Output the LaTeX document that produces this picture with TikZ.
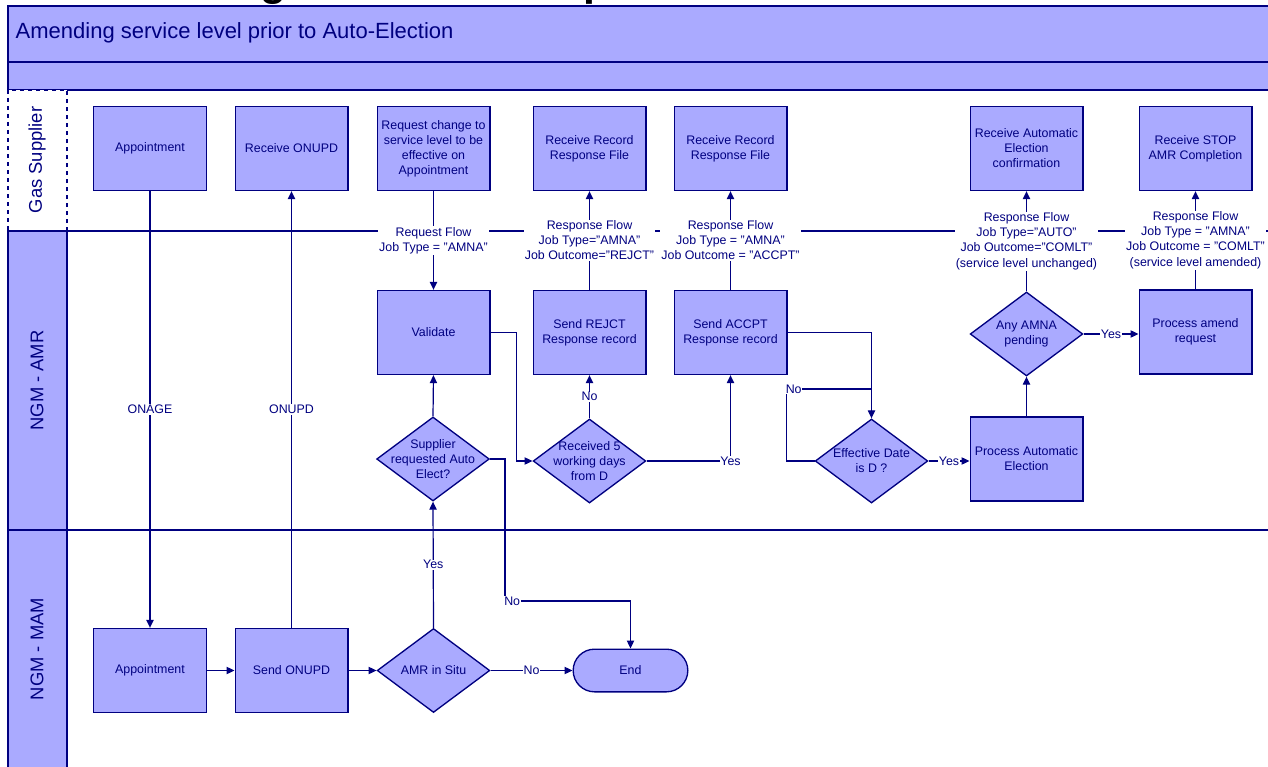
\documentclass[tikz,border=0pt]{standalone}
\usepackage{fontspec}
\setmainfont{Liberation Sans}
\usetikzlibrary{shapes.geometric,arrows.meta}
\definecolor{lane}{HTML}{AAAAFF}
\definecolor{ink}{HTML}{000080}

\begin{document}
\begin{tikzpicture}[x=0.75pt,y=-0.75pt,
  every node/.style={text=ink, font=\fontsize{9.3}{11.3}\selectfont},
  box/.style={draw=ink, fill=lane, line width=1pt, minimum width=84.5pt, minimum height=63pt, inner sep=0pt, align=center},
  dec/.style={diamond, draw=ink, fill=lane, line width=1pt, minimum width=84.5pt, minimum height=63pt, inner sep=0pt},
  dectext/.style={align=center, inner sep=0pt},
  term/.style={draw=ink, fill=lane, line width=1pt, rounded corners=16pt, minimum width=86pt, minimum height=32pt},
  flow/.style={draw=ink, line width=0.9pt, -{Triangle[length=6pt,width=5.5pt]}},
  wire/.style={draw=ink, line width=0.9pt},
  tag/.style={fill=white, inner sep=1pt, align=center},
  lanetitle/.style={rotate=90, font=\fontsize{13.8}{16}\selectfont}
]
\useasboundingbox (0,0) rectangle (1268,767);
\fill[white] (0,0) rectangle (1268,767);

% page title above the frame, mostly outside the visible area
\begin{scope}
  \clip (0,0) rectangle (1268,6);
  \node[anchor=base west, inner sep=0pt, text=black, font=\bfseries\fontsize{32}{36}\selectfont] (pagetitle) at (78,-4) {Amending Service Level prior to Auto-Election};
\end{scope}

% header bands
\fill[lane] (8,6) rectangle (1270,90);
\draw[ink, line width=1.4pt] (1270,6) -- (8,6) -- (8,90);
\draw[ink, line width=1.4pt] (8,62) -- (1270,62);
\draw[ink, line width=1.4pt] (8,90) -- (1270,90);
\node[anchor=west, font=\fontsize{16.5}{20}\selectfont] (heading) at (11,33) {Amending service level prior to Auto-Election};

% swimlanes
\draw[ink, dashed, fill=white, line width=0.8pt] (8,90) rectangle (67,231);
\draw[ink, fill=lane, line width=1pt] (8,231) rectangle (67,530);
\draw[ink, fill=lane, line width=1pt] (8,530) rectangle (67,770);
\draw[ink, line width=1pt] (67,231) -- (1270,231);
\draw[ink, line width=1pt] (67,530) -- (1270,530);
\node[lanetitle] (laneGS) at (37,160) {Gas Supplier};
\node[lanetitle] (laneAMR) at (37,380.5) {NGM - AMR};
\node[lanetitle] (laneMAM) at (37,649) {NGM - MAM};

% Gas Supplier
\node[box] (gapp) at (150,148.5) {Appointment};
\node[box] (grecv) at (291.5,148.5) {Receive ONUPD};
\node[box] (greq) at (433.5,148.5) {Request change to\\service level to be\\effective on\\Appointment};
\node[box] (grr1) at (589.5,148.5) {Receive Record\\Response File};
\node[box] (grr2) at (730.5,148.5) {Receive Record\\Response File};
\node[box] (gauto) at (1026.5,148.5) {Receive Automatic\\Election\\confirmation};
\node[box] (gstop) at (1195.5,148.5) {Receive STOP\\AMR Completion};

% NGM - AMR
\node[box] (val) at (433.5,332.5) {Validate};
\node[box] (rej) at (589.5,332.5) {Send REJCT\\Response record};
\node[box] (acc) at (730.5,332.5) {Send ACCPT\\Response record};
\node[dec, label={[dectext]center:{Any AMNA\\pending}}] (amna) at (1026.5,334) {};
\node[box] (amend) at (1195.5,332) {Process amend\\request};
\node[dec, label={[dectext]center:{Supplier\\requested Auto\\Elect?}}] (sup) at (433,459) {};
\node[dec, label={[dectext]center:{Received 5\\working days\\from D}}] (rcv5) at (589.5,461) {};
\node[dec, label={[dectext]center:{Effective Date\\is D ?}}] (eff) at (871.5,461) {};
\node[box] (pae) at (1026.5,459) {Process Automatic\\Election};
\coordinate (effin) at (871.5,389);

% NGM - MAM
\node[box] (mapp) at (150,670.5) {Appointment};
\node[box] (mons) at (291.5,670.5) {Send ONUPD};
\node[dec, label={[dectext]center:{AMR in Situ}}] (situ) at (433.5,670.5) {};
\node[term] (end) at (630.5,670.5) {End};

% flows between lanes
\draw[flow] (gapp.south) -- node[tag] {ONAGE} (mapp.north);
\draw[flow] (mons.north) -- node[tag] {ONUPD} (grecv.south);
\draw[flow] (greq.south) -- node[tag] {Request Flow\\Job Type = "AMNA"} (val.north);
\draw[flow] (rej.north) -- node[tag] {Response Flow\\Job Type="AMNA"\\Job Outcome="REJCT"} (grr1.south);
\draw[flow] (acc.north) -- node[tag] {Response Flow\\Job Type = "AMNA"\\Job Outcome = "ACCPT"} (grr2.south);
\draw[flow] (amna.north) -- node[tag] {Response Flow\\Job Type="AUTO"\\Job Outcome="COMLT"\\(service level unchanged)} (gauto.south);
\draw[flow] (amend.north) -- node[tag] {Response Flow\\Job Type = "AMNA"\\Job Outcome = "COMLT"\\(service level amended)} (gstop.south);

% NGM - AMR flows
\draw[flow] (val.east) -- ++(26,0) |- (rcv5.west);
\draw[flow] (rcv5.north) -- node[tag, inner sep=0.5pt] {No} (rej.south);
\draw[flow] (rcv5.east) -| node[tag, inner sep=0.5pt] {Yes} (acc.south);
\draw[flow] (acc.east) -| (eff.north);
\draw[wire] (eff.west) -- ++(-28,0) |- node[tag, pos=0.5, anchor=west, inner sep=0.5pt, xshift=-1.5pt] {No} (effin);
\draw[flow] (eff.east) -- node[tag, inner sep=0.5pt] {Yes} (eff.east -| pae.west);
\draw[flow] (pae.north) -- (amna.south);
\draw[flow] (amna.east) -- node[tag, inner sep=0.5pt] {Yes} (amna.east -| amend.west);
\draw[flow] (sup.north) -- (val.south);

% NGM - MAM flows
\draw[flow] (mapp.east) -- (mons.west);
\draw[flow] (mons.east) -- (situ.west);
\draw[flow] (situ.north) -- node[tag, inner sep=0.5pt] {Yes} (sup.south);
\draw[flow] (situ.east) -- node[tag, inner sep=0.5pt] {No} (end.west);
\draw[flow] (sup.east) -- ++(15,0) -- node[tag, pos=1, anchor=west, inner sep=0.5pt, xshift=-1.5pt] {No} ++(0,142) -| (end.north);
\end{tikzpicture}
\end{document}
